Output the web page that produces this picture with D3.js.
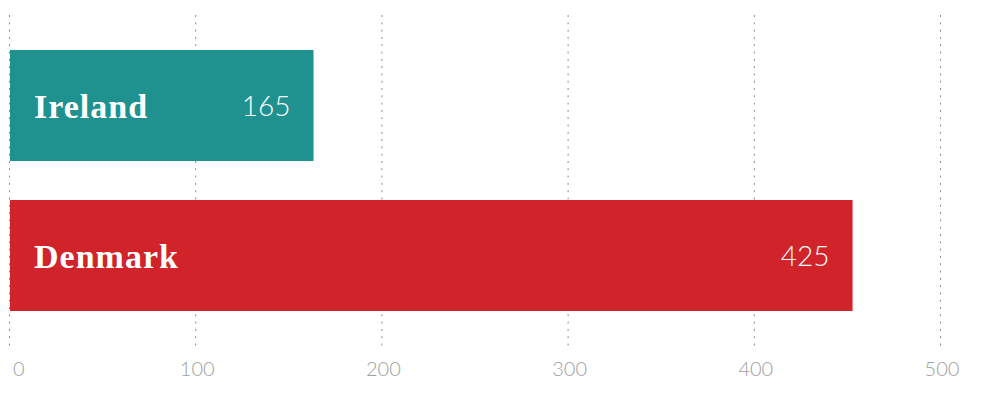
<!DOCTYPE html>
<html>
<head>
<meta charset="utf-8">
<script src="https://cdn.jsdelivr.net/npm/d3@7"></script>
<style>
  html, body { margin: 0; padding: 0; background: #fff; }
  svg { display: block; }
</style>
</head>
<body>
<svg id="chart" width="983" height="394"></svg>
<script>
// Data (bar lengths; printed labels as shown)
const countries = ["Ireland", "Denmark"];
const barValues = [163, 452.5];
const valueLabels = ["165", "425"];
const colors = ["#1f918f", "#d0232a"];
const tickValues = [0, 100, 200, 300, 400, 500];

const svg = d3.select("#chart");
const x = d3.scaleLinear().domain([0, 500]).range([10, 941]);
const y = d3.scaleBand().domain(countries).range([30.5, 330.5]).paddingInner(0.26).paddingOuter(0.13);

// gridlines
svg.append("g").selectAll("line").data(tickValues).join("line")
  .attr("x1", d => x(d) - 0.5).attr("x2", d => x(d) - 0.5)
  .attr("y1", 15).attr("y2", 346)
  .attr("stroke", "#8c8c8c").attr("stroke-width", 1)
  .attr("stroke-dasharray", "2,5.3");

// tick labels
svg.append("g").selectAll("text").data(tickValues).join("text")
  .attr("x", d => d === 0 ? x(d) + 3 : x(d) + 1)
  .attr("y", 376)
  .attr("text-anchor", d => d === 0 ? "start" : "middle")
  .attr("font-family", "Lato, sans-serif").attr("font-weight", 300)
  .attr("font-size", 20).attr("fill", "#a0a0a0")
  .text(d => d);

const data = countries.map((c, i) => ({ c, v: barValues[i], label: valueLabels[i], color: colors[i] }));

const g = svg.append("g").selectAll("g").data(data).join("g");
g.append("rect")
  .attr("x", x(0)).attr("y", d => y(d.c))
  .attr("width", d => x(d.v) - x(0)).attr("height", y.bandwidth())
  .attr("fill", d => d.color);

g.append("text")
  .attr("x", x(0) + 24)
  .attr("y", d => y(d.c) + y.bandwidth() / 2 + 12)
  .attr("font-family", "'Liberation Serif', 'Times New Roman', serif")
  .attr("font-weight", 700).attr("font-size", 34)
  .attr("letter-spacing", 1)
  .attr("fill", "#fff")
  .text(d => d.c);

g.append("text")
  .attr("x", d => x(d.v) - 23)
  .attr("y", d => y(d.c) + y.bandwidth() / 2 + 10)
  .attr("text-anchor", "end")
  .attr("font-family", "Lato, sans-serif").attr("font-weight", 300)
  .attr("font-size", 28).attr("fill", "#fff")
  .text(d => d.label);
</script>
</body>
</html>
